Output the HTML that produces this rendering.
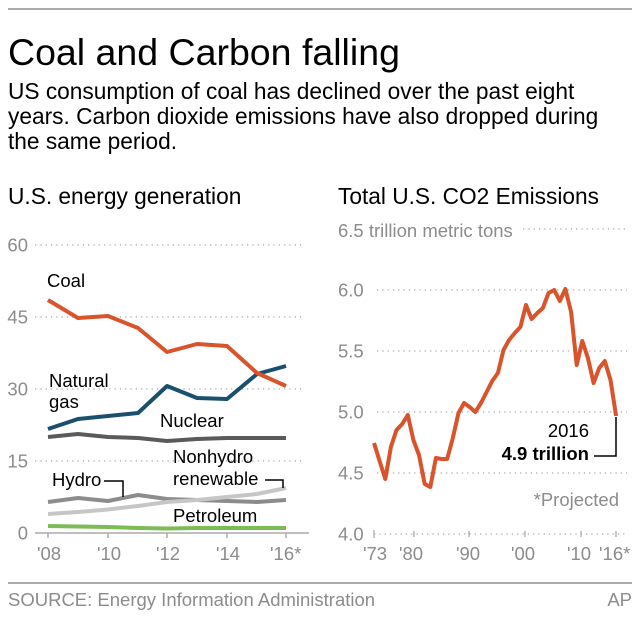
<!DOCTYPE html>
<html><head><meta charset="utf-8"><style>
html,body{margin:0;padding:0;background:#fff;}
svg{display:block;font-family:"Liberation Sans",Arial,sans-serif;}
</style></head><body>
<svg width="640" height="617" viewBox="0 0 640 617" xmlns="http://www.w3.org/2000/svg">
<rect width="640" height="617" fill="#fff"/>
<line x1="8" y1="9" x2="632" y2="9" stroke="#aaa" stroke-width="2"/>
<text x="8" y="65" font-size="37.5" fill="#000">Coal and Carbon falling</text>
<text x="8" y="99" font-size="22.7" fill="#000">US consumption of coal has declined over the past eight</text>
<text x="8" y="124" font-size="22.7" fill="#000">years. Carbon dioxide emissions have also dropped during</text>
<text x="8" y="149" font-size="22.7" fill="#000">the same period.</text>
<text x="8" y="204" font-size="22.7" fill="#000">U.S. energy generation</text>
<text x="338" y="204" font-size="22.7" fill="#000">Total U.S. CO2 Emissions</text>

<!-- LEFT CHART -->
<g stroke="#aaa" stroke-width="1.3" stroke-dasharray="1.3 4">
<line x1="35" y1="245" x2="305" y2="245"/>
<line x1="35" y1="317" x2="305" y2="317"/>
<line x1="35" y1="389" x2="305" y2="389"/>
<line x1="35" y1="461" x2="305" y2="461"/>
</g>
<g font-size="18.5" fill="#8c8c8c" text-anchor="end">
<text x="28" y="251.5">60</text>
<text x="28" y="323.5">45</text>
<text x="28" y="395.5">30</text>
<text x="28" y="467.5">15</text>
<text x="28" y="539.5">0</text>
</g>
<line x1="35" y1="533" x2="309" y2="533" stroke="#aaa" stroke-width="1.5"/>
<g stroke="#aaa" stroke-width="1.5">
<line x1="48" y1="533" x2="48" y2="538"/>
<line x1="108" y1="533" x2="108" y2="538"/>
<line x1="167" y1="533" x2="167" y2="538"/>
<line x1="227" y1="533" x2="227" y2="538"/>
<line x1="286" y1="533" x2="286" y2="538"/>
</g>
<g font-size="18.5" fill="#8c8c8c" text-anchor="middle">
<text x="49" y="560">'08</text>
<text x="109" y="560">'10</text>
<text x="168" y="560">'12</text>
<text x="228" y="560">'14</text>
<text x="270" y="560" text-anchor="start">'16*</text>
</g>

<g fill="none" stroke-width="4" stroke-linejoin="round" stroke-linecap="butt">
<polyline stroke="#7dbb57" points="48,526 78,526.5 108,527 138,528 167,528.5 197,528 227,528 257,528 286,528"/>
<polyline stroke="#8c8c8c" points="48,502 78,498 108,501 138,495 167,499 197,500 227,501 257,502 286,500"/>
<polyline stroke="#c6c6c6" points="48,514 78,512 108,509.5 138,506 167,502 197,500 227,497 257,494 286,488"/>
<polyline stroke="#5a5a5a" points="48,437 78,434 108,437 138,438 167,441 197,439 227,438 257,438 286,438"/>
<polyline stroke="#1b4f6e" points="48,429 78,419 108,416 138,413 167,386 197,398 227,399 257,374 286,366"/>
<polyline stroke="#d9532b" points="48,300 78,318 108,316 138,328 167,352 197,344 227,346 257,373 286,386"/>
</g>

<g font-size="18.5" fill="#000">
<text x="47" y="287">Coal</text>
<text x="49" y="387">Natural</text>
<text x="49" y="408">gas</text>
<text x="160" y="427">Nuclear</text>
<text x="52" y="486">Hydro</text>
<text x="173" y="463">Nonhydro</text>
<text x="173" y="485">renewable</text>
<text x="173" y="522">Petroleum</text>
</g>
<g fill="none" stroke="#000" stroke-width="1.5">
<polyline points="104,481 123,481 123,497"/>
<polyline points="265,480 283,480 283,488"/>
</g>

<!-- RIGHT CHART -->
<g stroke="#aaa" stroke-width="1.3" stroke-dasharray="1.3 4">
<line x1="523" y1="229" x2="627" y2="229"/>
<line x1="377" y1="290" x2="627" y2="290"/>
<line x1="377" y1="351" x2="627" y2="351"/>
<line x1="377" y1="412" x2="627" y2="412"/>
<line x1="377" y1="473" x2="627" y2="473"/>
<line x1="374" y1="534" x2="627" y2="534"/>
</g>
<g stroke="#aaa" stroke-width="1.3">
<line x1="374" y1="530" x2="374" y2="538"/>
<line x1="414" y1="531" x2="414" y2="537"/>
<line x1="469" y1="531" x2="469" y2="537"/>
<line x1="525" y1="531" x2="525" y2="537"/>
<line x1="581" y1="531" x2="581" y2="537"/>
<line x1="616" y1="531" x2="616" y2="537"/>
</g>
<text x="338" y="237" font-size="18.5" fill="#8c8c8c">6.5 trillion metric tons</text>
<g font-size="18.5" fill="#8c8c8c">
<text x="338" y="296.5">6.0</text>
<text x="338" y="357.5">5.5</text>
<text x="338" y="418.5">5.0</text>
<text x="338" y="479.5">4.5</text>
<text x="338" y="540.5">4.0</text>
</g>
<g font-size="18.5" fill="#8c8c8c" text-anchor="middle">
<text x="375" y="560">'73</text>
<text x="411" y="560">'80</text>
<text x="468" y="560">'90</text>
<text x="523" y="560">'00</text>
<text x="579" y="560">'10</text>
<text x="599" y="560" text-anchor="start">'16*</text>
</g>

<polyline fill="none" stroke="#d9532b" stroke-width="4" stroke-linejoin="round" points="
374,443 379.6,461 385.3,479 390.9,447 396.5,430 402.2,424 407.8,415 413.4,440 419,455 424.7,484 430.3,487 435.9,458 441.6,459 447.2,459 452.8,438 458.5,413 464.1,403 469.7,407 475.3,412 481,403 486.6,392 492.2,381 497.9,373 503.5,350 509.1,340 514.8,333 520.4,327 526,305 531.6,319 537.3,313 542.9,308 548.5,293 554.2,290 559.8,301 565.4,289 571.1,312 576.7,365 582.3,341 587.9,358 593.6,383 599.2,368 604.8,361 610.5,380 616.1,416"/>

<text x="589" y="437" font-size="18.5" fill="#000" text-anchor="end">2016</text>
<text x="589" y="460" font-size="18.5" fill="#000" font-weight="bold" text-anchor="end">4.9 trillion</text>
<polyline fill="none" stroke="#000" stroke-width="1.5" points="594,456 616,456 616,417"/>
<text x="619" y="506" font-size="18.5" fill="#8c8c8c" text-anchor="end">*Projected</text>

<!-- FOOTER -->
<line x1="8" y1="583" x2="632" y2="583" stroke="#aaa" stroke-width="2"/>
<text x="8" y="606" font-size="18.5" fill="#8c8c8c">SOURCE: Energy Information Administration</text>
<text x="632" y="606" font-size="18.5" fill="#8c8c8c" text-anchor="end">AP</text>
</svg>
</body></html>
